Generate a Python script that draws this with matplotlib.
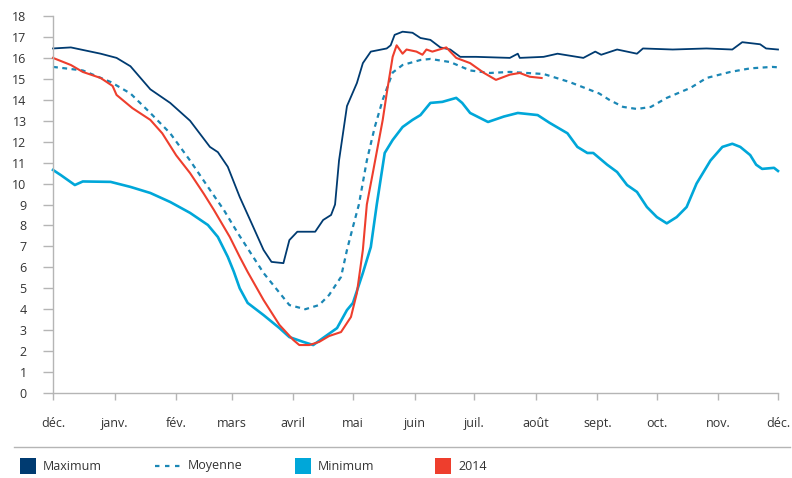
import numpy as np
import matplotlib
matplotlib.use('Agg')
import matplotlib.pyplot as plt
from matplotlib.patches import Rectangle
from matplotlib.lines import Line2D

plt.rcParams['font.family'] = ['Open Sans', 'DejaVu Sans']

# Month labels and their position in days from 1 Dec
months = ['déc.', 'janv.', 'fév.', 'mars', 'avril', 'mai', 'juin',
          'juil.', 'août', 'sept.', 'oct.', 'nov.', 'déc.']
month_days = [0, 31, 62, 90, 121, 151, 182, 212, 243, 274, 304, 335, 365]

# Maximum (day, value)
max_days = [0, 9, 24, 32, 39, 49, 59, 69, 79, 83, 88, 94, 100, 106, 110, 116,
            119, 123, 132, 136, 140, 142, 144, 148, 153, 156, 160, 168, 170,
            172, 176, 181, 185, 190, 195, 200, 205, 213, 230, 234, 235, 247,
            254, 267, 273, 276, 284, 294, 297, 312, 329, 342, 347, 356, 359, 365]
max_vals = [16.45, 16.5, 16.2, 16.0, 15.6, 14.5, 13.85, 13.0, 11.75, 11.5, 10.8,
            9.36, 8.1, 6.83, 6.26, 6.2, 7.3, 7.7, 7.7, 8.26, 8.5, 9.0, 11.1, 13.7,
            14.8, 15.75, 16.3, 16.45, 16.6, 17.1, 17.25, 17.2, 16.95, 16.86, 16.5,
            16.4, 16.05, 16.05, 16.0, 16.2, 16.0, 16.05, 16.2, 16.0, 16.3, 16.15,
            16.4, 16.2, 16.45, 16.4, 16.45, 16.4, 16.75, 16.65, 16.45, 16.4]

# Moyenne
moy_days = [0, 15, 29, 39, 49, 59, 69, 79, 86, 93, 106, 119, 127, 134, 139,
            145, 148, 151, 154, 158, 162, 166, 171, 176, 185, 190, 200, 210,
            220, 230, 247, 260, 275, 280, 287, 294, 301, 309, 321, 329, 341,
            351, 362, 365]
moy_vals = [15.57, 15.4, 14.85, 14.3, 13.37, 12.4, 11.1, 9.7, 8.74, 7.64, 5.73,
            4.2, 4.0, 4.2, 4.68, 5.54, 6.83, 7.93, 9.0, 11.1, 12.7, 14.0, 15.3,
            15.66, 15.9, 15.95, 15.8, 15.4, 15.28, 15.33, 15.23, 14.85, 14.3,
            14.0, 13.66, 13.56, 13.66, 14.09, 14.57, 15.04, 15.33, 15.5, 15.57,
            15.55]

# Minimum
min_days = [0, 4, 11, 15, 29, 39, 49, 59, 69, 78, 83, 88, 91, 94, 98, 106, 114,
            119, 126, 131, 136, 143, 148, 151, 156, 160, 163, 167, 171, 176,
            181, 185, 190, 196, 203, 206, 210, 219, 227, 234, 244, 250, 259,
            264, 269, 272, 279, 284, 289, 294, 299, 304, 309, 314, 319, 324,
            331, 337, 342, 346, 351, 354, 357, 363, 365]
min_vals = [10.65, 10.4, 9.93, 10.1, 10.08, 9.84, 9.55, 9.12, 8.6, 8.02, 7.45,
            6.5, 5.8, 5.0, 4.3, 3.72, 3.1, 2.67, 2.44, 2.29, 2.63, 3.1, 3.96, 4.3,
            5.73, 6.97, 9.0, 11.46, 12.08, 12.7, 13.04, 13.27, 13.85, 13.9, 14.09,
            13.85, 13.37, 12.94, 13.2, 13.37, 13.27, 12.9, 12.4, 11.75, 11.46,
            11.46, 10.9, 10.55, 9.93, 9.6, 8.88, 8.4, 8.1, 8.4, 8.88, 10.0, 11.1,
            11.75, 11.9, 11.75, 11.36, 10.9, 10.7, 10.75, 10.6]

# 2014
y2014_days = [0, 9, 15, 24, 30, 32, 40, 49, 55, 62, 69, 76, 81, 89, 94, 98, 106,
              114, 121, 124, 129, 134, 139, 145, 150, 153, 156, 158, 161, 166,
              168, 171, 173, 176, 178, 183, 186, 188, 191, 198, 203, 210, 217,
              223, 230, 235, 240, 246]
y2014_vals = [16.0, 15.66, 15.33, 15.04, 14.66, 14.23, 13.6, 13.04, 12.4, 11.35,
              10.5, 9.5, 8.74, 7.45, 6.5, 5.78, 4.44, 3.25, 2.53, 2.29, 2.29, 2.44,
              2.72, 2.91, 3.63, 4.78, 6.83, 9.0, 10.5, 13.04, 14.3, 16.05, 16.6,
              16.2, 16.4, 16.3, 16.15, 16.4, 16.3, 16.5, 16.0, 15.75, 15.28, 14.95,
              15.2, 15.28, 15.1, 15.04]

c_max = '#003b71'
c_moy = '#1b87b5'
c_min = '#00a7d9'
c_2014 = '#ee3e2d'
c_text = '#333333'
c_axis = '#b5b5b5'

fig = plt.figure(figsize=(7.92, 4.78), dpi=100)
ax = fig.add_axes([53/792, 85/478, 725/792, 377/478])

ax.plot(max_days, max_vals, color=c_max, lw=1.3, clip_on=False)
ax.plot(moy_days, moy_vals, color=c_moy, lw=1.6, dashes=(2.2, 2.0), clip_on=False)
ax.plot(min_days, min_vals, color=c_min, lw=1.9, clip_on=False)
ax.plot(y2014_days, y2014_vals, color=c_2014, lw=1.5, clip_on=False)

ax.set_xlim(0, 365)
ax.set_ylim(0, 18)
ax.set_yticks(range(0, 19))
ax.set_xticks(month_days)
ax.set_xticklabels(months)

for s in ['top', 'right']:
    ax.spines[s].set_visible(False)
for s in ['left', 'bottom']:
    ax.spines[s].set_color(c_axis)
    ax.spines[s].set_linewidth(1.0)
ax.tick_params(axis='y', length=7, width=1.0, color=c_axis, labelsize=9,
               labelcolor=c_text, pad=12)
ax.tick_params(axis='x', length=5, width=1.0, color=c_axis, labelsize=9,
               labelcolor=c_text, pad=12)

# separator line above legend
fig.add_artist(Line2D([14/792, 790/792], [1 - 447/478, 1 - 447/478],
                      color=c_axis, lw=1.0))

# legend
ly = 1 - 466/478
sq_w, sq_h = 16/792, 16/478
for x0, col in [(20, c_max), (295, c_min), (435, c_2014)]:
    fig.add_artist(Rectangle((x0/792, ly - sq_h/2), sq_w, sq_h,
                             facecolor=col, edgecolor='none'))
fig.add_artist(Line2D([155/792, 181/792], [ly, ly], color=c_moy, lw=1.6,
                      dashes=(2.0, 2.5)))
for x0, txt in [(43, 'Maximum'), (188, 'Moyenne'), (318, 'Minimum'), (458, '2014')]:
    fig.text(x0/792, ly, txt, fontsize=9, color=c_text, va='center', ha='left')

fig.savefig('out.png', dpi=100)
